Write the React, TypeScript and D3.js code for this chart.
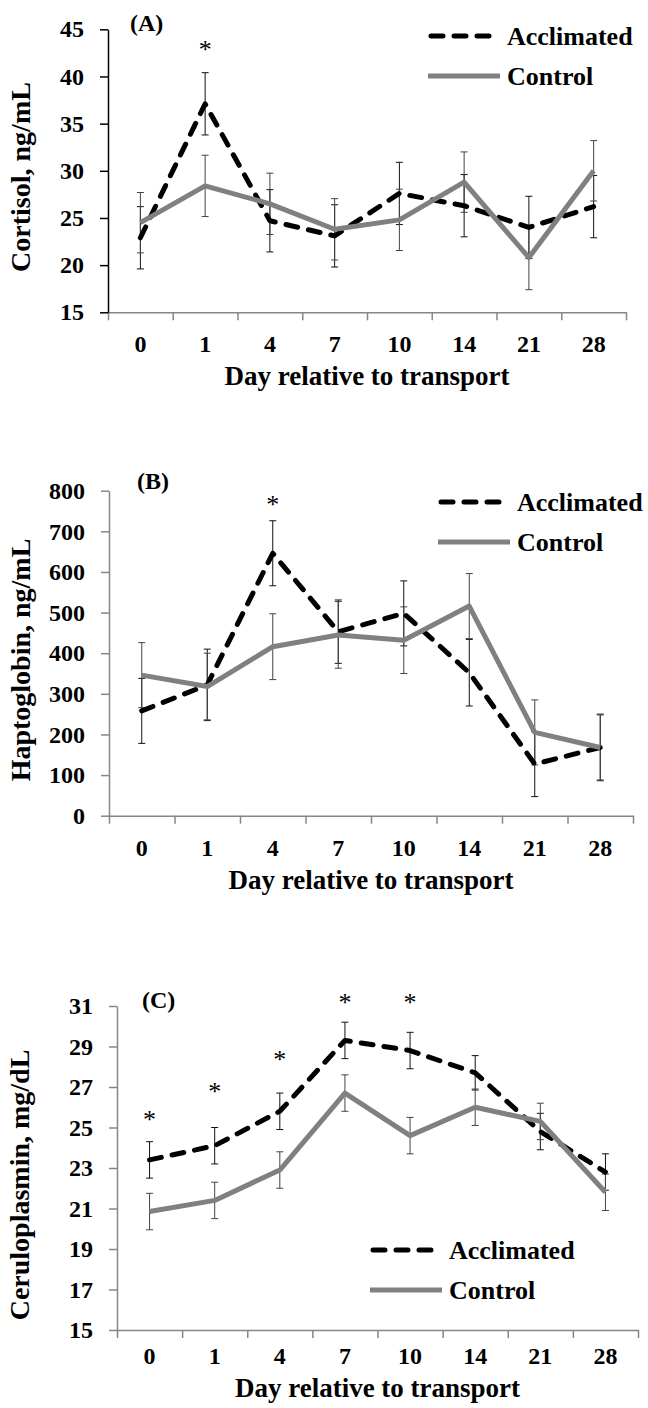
import React, { useEffect, useRef } from 'react';
import * as d3 from 'd3';

const FONT = "'Times New Roman', 'Liberation Serif', serif";

const days = ['0', '1', '4', '7', '10', '14', '21', '28'];

// (A) cortisol, ng/mL
const cortisolAcclimated = [22.9, 37.1, 24.7, 23.1, 27.6, 26.3, 24.0, 26.2];
const cortisolAcclimatedSE = [3.3, 3.3, 3.3, 3.3, 3.3, 3.3, 3.3, 3.3];
const cortisolControl = [24.5, 28.4, 26.5, 23.8, 24.8, 28.8, 20.8, 30.0];
const cortisolControlSE = [3.2, 3.25, 3.25, 3.25, 3.25, 3.2, 3.4, 3.2];
const cortisolTicks = [15, 20, 25, 30, 35, 40, 45];
const cortisolStars = [{ day: '1', value: 43.3 }];

// (B) haptoglobin, ng/mL
const haptoAcclimated = [258, 322, 646, 453, 498, 352, 127, 168];
const haptoAcclimatedSE = [80, 88, 80, 78, 80, 82, 80, 82];
const haptoControl = [346, 318, 416, 445, 432, 516, 205, 168];
const haptoControlSE = [80, 82, 81, 82, 82, 80, 80, 80];
const haptoTicks = [0, 100, 200, 300, 400, 500, 600, 700, 800];
const haptoStars = [{ day: '4', value: 777 }];

// (C) ceruloplasmin, mg/dL
const ceruloAcclimated = [23.4, 24.1, 25.8, 29.3, 28.8, 27.7, 24.8, 22.8];
const ceruloAcclimatedSE = [0.9, 0.9, 0.9, 0.9, 0.9, 0.85, 0.9, 0.9];
const ceruloControl = [20.85, 21.4, 22.9, 26.7, 24.6, 26.0, 25.3, 21.8];
const ceruloControlSE = [0.9, 0.9, 0.9, 0.9, 0.9, 0.9, 0.9, 0.9];
const ceruloTicks = [15, 17, 19, 21, 23, 25, 27, 29, 31];
const ceruloStars = [
  { day: '0', value: 25.6 },
  { day: '1', value: 27.0 },
  { day: '4', value: 28.6 },
  { day: '7', value: 31.4 },
  { day: '10', value: 31.4 },
];

const seriesNames = ['Acclimated', 'Control'];

const panels = [
  {
    label: '(A)', yTitle: 'Cortisol, ng/mL',
    acc: cortisolAcclimated, accSE: cortisolAcclimatedSE,
    ctl: cortisolControl, ctlSE: cortisolControlSE,
    ticks: cortisolTicks, stars: cortisolStars, domain: [15, 45],
    left: 108, right: 626, top: 29.3, bottom: 312.3, yAxisColor: '#000',
    labelX: 130, labelY: 31, yTitleX: 30, yTitleY: 177, xTitleY: 385, tickPad: 23,
    legendX: 428, legendY: 36,
  },
  {
    label: '(B)', yTitle: 'Haptoglobin, ng/mL',
    acc: haptoAcclimated, accSE: haptoAcclimatedSE,
    ctl: haptoControl, ctlSE: haptoControlSE,
    ticks: haptoTicks, stars: haptoStars, domain: [0, 800],
    left: 109, right: 633, top: 490.7, bottom: 815.7, yAxisColor: '#868686',
    labelX: 137, labelY: 489, yTitleX: 30, yTitleY: 660, xTitleY: 889, tickPad: 23,
    legendX: 438, legendY: 502,
  },
  {
    label: '(C)', yTitle: 'Ceruloplasmin, mg/dL',
    acc: ceruloAcclimated, accSE: ceruloAcclimatedSE,
    ctl: ceruloControl, ctlSE: ceruloControlSE,
    ticks: ceruloTicks, stars: ceruloStars, domain: [15, 31],
    left: 117, right: 638, top: 1006, bottom: 1330, yAxisColor: '#868686',
    labelX: 142, labelY: 1008, yTitleX: 29, yTitleY: 1185, xTitleY: 1397, tickPad: 17,
    legendX: 370, legendY: 1250,
  },
];

const DASH = '12,11';

function drawPanel(svg, p) {
  const x = d3.scaleBand().domain(days).range([p.left, p.right]).padding(0);
  const xc = (d) => x(d) + x.bandwidth() / 2;
  const xEdge = d3.scaleLinear().domain([0, days.length]).range([p.left, p.right]);
  const y = d3.scaleLinear().domain(p.domain).range([p.bottom, p.top]);

  const g = svg.append('g');

  // x axis: ticks sit between the categories
  const xa = g.append('g')
    .attr('transform', `translate(0,${p.bottom})`)
    .call(d3.axisBottom(xEdge).tickValues(d3.range(days.length + 1)).tickSize(8).tickSizeOuter(0).tickFormat(() => ''));
  xa.select('.domain').attr('stroke', '#868686').attr('stroke-width', 1.5);
  xa.selectAll('.tick line').attr('stroke', '#868686').attr('stroke-width', 1.5);

  // x labels
  const xl = g.append('g')
    .attr('transform', `translate(0,${p.bottom})`)
    .call(d3.axisBottom(x).tickSize(0).tickPadding(p.tickPad));
  xl.select('.domain').remove();
  xl.selectAll('.tick text')
    .attr('font-family', FONT).attr('font-size', 24).attr('font-weight', 'bold').attr('fill', '#000');

  // y axis
  const ya = g.append('g')
    .attr('transform', `translate(${p.left},0)`)
    .call(d3.axisLeft(y).tickValues(p.ticks).tickSize(8).tickSizeOuter(0).tickPadding(16));
  ya.select('.domain').attr('stroke', p.yAxisColor).attr('stroke-width', 1.5);
  ya.selectAll('.tick line').attr('stroke', p.yAxisColor).attr('stroke-width', 1.5);
  ya.selectAll('.tick text')
    .attr('font-family', FONT).attr('font-size', 24).attr('font-weight', 'bold').attr('fill', '#000');

  // titles
  g.append('text')
    .attr('transform', `translate(${p.yTitleX},${p.yTitleY}) rotate(-90)`)
    .attr('text-anchor', 'middle')
    .attr('font-family', FONT).attr('font-size', 28).attr('font-weight', 'bold')
    .text(p.yTitle);
  g.append('text')
    .attr('x', (p.left + p.right) / 2).attr('y', p.xTitleY)
    .attr('text-anchor', 'middle')
    .attr('font-family', FONT).attr('font-size', 27).attr('font-weight', 'bold')
    .text('Day relative to transport');
  g.append('text')
    .attr('x', p.labelX).attr('y', p.labelY)
    .attr('font-family', FONT).attr('font-size', 24).attr('font-weight', 'bold')
    .text(p.label);

  const series = [
    { vals: p.acc, se: p.accSE, color: '#000', bar: '#111', dash: DASH },
    { vals: p.ctl, se: p.ctlSE, color: '#808080', bar: '#444', dash: null },
  ];

  // error bars
  series.forEach((s) => {
    const eb = g.append('g').attr('stroke', s.bar).attr('stroke-width', 1);
    s.vals.forEach((v, i) => {
      const cx = xc(days[i]);
      const hi = y(v + s.se[i]);
      const lo = y(v - s.se[i]);
      eb.append('line').attr('x1', cx).attr('x2', cx).attr('y1', hi).attr('y2', lo);
      eb.append('line').attr('x1', cx - 3.5).attr('x2', cx + 3.5).attr('y1', hi).attr('y2', hi);
      eb.append('line').attr('x1', cx - 3.5).attr('x2', cx + 3.5).attr('y1', lo).attr('y2', lo);
    });
  });

  // lines
  const line = d3.line().x((_, i) => xc(days[i])).y((v) => y(v));
  series.forEach((s) => {
    const path = g.append('path')
      .attr('d', line(s.vals))
      .attr('fill', 'none')
      .attr('stroke', s.color)
      .attr('stroke-width', 5)
      .attr('stroke-linejoin', 'round');
    if (s.dash) path.attr('stroke-dasharray', s.dash).attr('stroke-linecap', 'round');
  });

  // significance marks
  g.selectAll('.star').data(p.stars).join('text')
    .attr('class', 'star')
    .attr('x', (d) => xc(d.day)).attr('y', (d) => y(d.value) + 13)
    .attr('text-anchor', 'middle')
    .attr('font-family', FONT).attr('font-size', 26)
    .text('*');

  // legend
  const lg = g.append('g').attr('transform', `translate(${p.legendX},${p.legendY})`);
  seriesNames.forEach((name, i) => {
    const s = series[i];
    const ly = i * 40;
    const l = lg.append('line')
      .attr('x1', 0).attr('x2', s.dash ? 64 : 72).attr('y1', ly).attr('y2', ly)
      .attr('stroke', s.color).attr('stroke-width', 5);
    if (s.dash) l.attr('stroke-dasharray', DASH).attr('stroke-linecap', 'round').attr('x1', 3).attr('x2', 64);
    lg.append('text')
      .attr('x', 79).attr('y', ly + 9)
      .attr('font-family', FONT).attr('font-size', 26).attr('font-weight', 'bold')
      .text(name);
  });
}

export default function App() {
  const ref = useRef(null);

  useEffect(() => {
    const svg = d3.select(ref.current);
    svg.selectAll('*').remove();
    svg.append('rect').attr('width', 648).attr('height', 1408).attr('fill', '#fff');
    panels.forEach((p) => drawPanel(svg, p));
  }, []);

  return (
    <svg
      ref={ref}
      width={648}
      height={1408}
      style={{ position: 'absolute', left: 0, top: 0, display: 'block' }}
    />
  );
}
